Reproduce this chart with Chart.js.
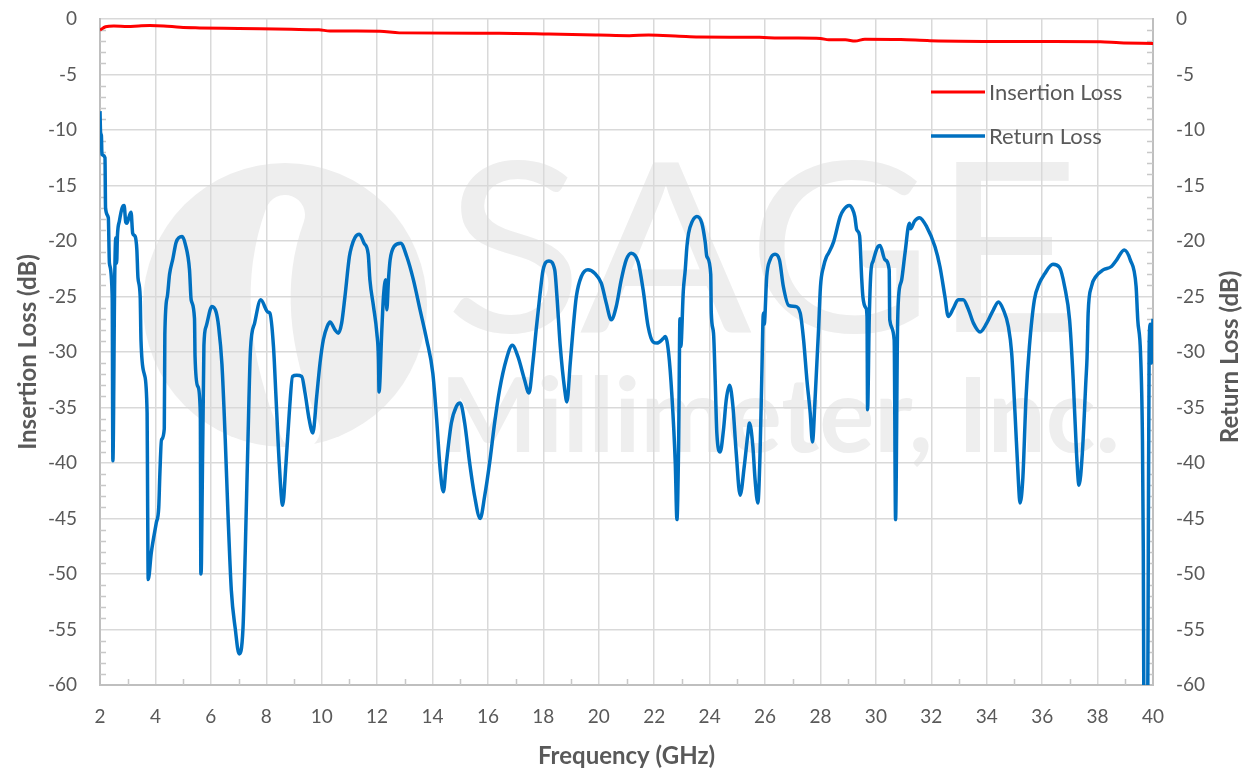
<!DOCTYPE html>
<html><head><meta charset="utf-8">
<script src="https://cdn.jsdelivr.net/npm/chart.js@4.4.1/dist/chart.umd.min.js"></script>
<style>html,body{margin:0;padding:0;background:#fff}canvas{display:block}</style>
</head><body>
<canvas id="c" width="1250" height="773"></canvas>
<script>
// ---- Data ----
const seriesNames = ['Insertion Loss', 'Return Loss'];
const xTitle = 'Frequency (GHz)';
const yTitleLeft = 'Insertion Loss (dB)';
const yTitleRight = 'Return Loss (dB)';

const freqIL = [2.0,2.2,2.5,3.0,3.4,3.8,4.3,4.9,5.6,7.0,8.9,9.9,10.3,12.1,12.8,16.4,18.2,20.0,21.1,21.8,22.9,23.6,25.8,26.5,27.2,28.0,28.3,28.9,29.25,29.6,30.9,31.95,35.9,38.1,38.8,40.0];
const insertionLoss = [-1.0,-0.7,-0.62,-0.68,-0.62,-0.58,-0.62,-0.75,-0.8,-0.85,-0.93,-0.97,-1.08,-1.1,-1.25,-1.28,-1.35,-1.44,-1.5,-1.45,-1.55,-1.62,-1.65,-1.71,-1.71,-1.75,-1.88,-1.88,-1.98,-1.82,-1.85,-1.95,-2.03,-2.05,-2.15,-2.2];

const freqRL = [
2.00,2.02,2.05,2.07,2.18,2.20,2.30,2.34,2.44,2.465,2.53,2.57,2.60,2.63,2.70,2.80,2.87,2.93,2.97,3.05,3.12,3.18,3.27,3.33,3.37,3.45,3.48,3.60,3.70,3.72,3.74,3.85,4.03,4.12,4.16,4.22,4.32,4.34,4.43,4.51,4.63,4.75,4.96,5.08,5.23,5.29,5.41,5.43,5.53,5.62,5.64,5.66,5.75,5.83,6.04,6.19,6.28,6.40,6.52,6.62,6.74,6.88,7.02,7.16,7.24,7.34,7.43,7.58,7.80,8.06,
8.13,8.26,8.35,8.47,8.59,8.71,8.83,8.95,9.10,9.28,9.40,9.55,9.68,9.82,9.94,10.06,10.20,10.30,10.48,10.60,10.72,10.84,11.00,11.08,11.20,11.36,11.53,11.68,11.74,11.87,11.99,12.05,12.07,12.17,12.23,12.31,12.35,12.41,12.47,12.61,12.85,13.07,13.31,13.55,13.79,14.01,14.15,14.27,14.39,
14.50,14.68,14.86,15.00,15.16,15.34,15.52,15.72,15.88,16.06,16.24,16.42,16.66,16.88,17.08,17.32,17.48,17.62,17.74,17.87,17.99,18.20,18.41,18.49,18.61,18.77,18.85,18.97,19.07,19.19,19.37,19.61,19.85,20.09,20.27,20.45,20.63,20.81,20.99,21.17,21.42,21.60,21.78,21.96,22.10,22.32,22.40,
22.52,22.64,22.76,22.82,22.88,22.93,22.96,23.05,23.12,23.18,23.24,23.36,23.54,23.72,23.84,23.90,24.04,24.06,24.14,24.20,24.26,24.38,24.50,24.60,24.72,24.84,24.96,25.10,25.25,25.37,25.44,25.56,25.64,25.74,25.82,25.88,25.94,25.97,26.06,26.18,26.36,26.52,26.66,26.85,27.09,27.27,27.39,27.51,27.63,27.71,27.81,27.93,28.00,28.11,28.22,28.29,28.47,28.71,28.83,29.04,29.15,29.24,29.31,29.41,29.49,29.53,29.63,29.68,29.70,29.76,29.82,29.90,30.05,30.15,30.33,30.48,30.50,30.66,30.71,30.78,30.82,30.93,31.05,31.21,31.25,31.40,31.57,31.83,32.13,32.31,32.49,32.61,32.79,32.97,33.15,33.33,33.52,33.76,34.00,34.24,34.42,34.60,34.78,34.90,35.02,35.14,35.20,35.30,35.42,35.54,35.72,35.90,36.08,36.39,36.63,36.81,36.99,37.12,37.24,37.33,37.45,37.58,37.62,37.66,37.78,37.94,38.20,38.50,38.69,38.96,39.18,39.39,39.45,39.55,39.62,39.65,39.67,39.74,39.81,39.83,39.86,39.90,39.94,40.00];
const returnLoss = [
-8.3,-10.2,-10.5,-12.2,-12.5,-17.0,-17.9,-22.0,-25.0,-39.8,-23.5,-19.7,-22.0,-19.5,-18.2,-17.0,-16.8,-18.3,-18.4,-17.8,-17.4,-19.3,-19.6,-20.8,-23.3,-25.0,-29.0,-32.0,-35.5,-44.0,-50.5,-48.1,-45.4,-44.0,-41.0,-37.9,-36.9,-28.4,-25.0,-23.0,-21.6,-20.1,-19.6,-20.3,-22.6,-25.3,-27.0,-30.4,-33.1,-35.5,-50.0,-49.0,-29.4,-27.7,-25.9,-26.4,-27.7,-31.1,-37.9,-44.7,-51.5,-54.9,-57.2,-54.9,-48.1,-37.9,-29.8,-27.4,-25.3,-26.4,
-26.5,-29.5,-34.0,-40.1,-43.8,-40.1,-35.5,-32.2,-32.1,-32.2,-33.7,-36.1,-37.3,-34.0,-31.0,-28.9,-27.7,-27.3,-28.0,-28.3,-27.4,-25.0,-21.4,-20.5,-19.7,-19.4,-20.2,-21.2,-23.5,-25.9,-28.3,-30.7,-33.6,-28.0,-25.0,-23.5,-26.2,-23.5,-21.7,-20.5,-20.2,-21.4,-23.5,-26.2,-28.9,-31.9,-36.1,-40.4,-42.6,
-40.0,-36.4,-34.9,-34.6,-36.4,-40.0,-43.0,-45.0,-43.0,-40.0,-36.4,-33.4,-30.7,-29.4,-30.4,-32.5,-33.7,-31.0,-28.0,-25.0,-22.6,-21.8,-22.6,-25.0,-29.5,-33.4,-34.5,-31.0,-28.0,-25.0,-23.2,-22.6,-22.9,-23.8,-25.6,-27.1,-25.9,-23.5,-21.7,-21.1,-21.9,-24.4,-27.7,-29.1,-29.2,-28.8,-28.6,
-30.1,-34.0,-40.0,-45.1,-38.5,-27.0,-29.5,-24.5,-22.6,-20.5,-19.3,-18.3,-17.8,-18.4,-20.1,-21.4,-23.0,-26.5,-28.3,-32.5,-37.3,-39.0,-37.0,-34.3,-33.0,-34.9,-39.1,-42.9,-40.3,-37.6,-36.4,-38.5,-41.5,-43.6,-39.1,-32.5,-26.5,-27.5,-23.2,-21.7,-21.2,-21.7,-24.1,-25.8,-25.9,-26.5,-28.9,-32.5,-35.5,-38.1,-34.0,-28.0,-24.1,-22.3,-21.4,-21.1,-20.1,-17.8,-17.2,-16.8,-17.1,-17.8,-19.0,-19.5,-23.5,-25.0,-26.0,-26.8,-35.2,-27.0,-22.8,-21.8,-20.6,-20.4,-21.7,-22.6,-27.1,-28.9,-45.1,-28.0,-25.0,-23.5,-21.1,-18.4,-18.9,-18.2,-17.9,-18.7,-20.5,-22.3,-25.0,-26.8,-26.1,-25.3,-25.3,-26.1,-27.4,-28.2,-27.4,-26.2,-25.5,-26.2,-27.7,-30.1,-35.5,-41.5,-43.6,-41.5,-34.0,-29.5,-25.3,-23.8,-23.0,-22.1,-22.4,-24.1,-27.1,-32.5,-39.1,-42.0,-39.1,-32.5,-30.5,-26.5,-24.1,-23.2,-22.6,-22.3,-21.7,-20.8,-21.7,-24.1,-27.1,-30.1,-38.0,-48.0,-62.0,-72.0,-62.0,-48.0,-30.0,-27.5,-31.0,-27.0];

const xMin = 2, xMax = 40, xStep = 2;
const yMin = -60, yMax = 0, yStep = 5;

// ---- Styles ----
const TXT = '#595959';
const FONT = 'Lato, "Open Sans", sans-serif';

function pts(xs, ys){ return xs.map((x,i)=>({x:x, y:ys[i]})); }

const watermark = {
  id:'watermark',
  beforeDraw(chart){
    const c = chart.ctx;
    c.save();
    c.fillStyle = '#ffffff';
    c.fillRect(0,0,chart.width,chart.height);
    const g = '#eeeeee';
    // circular logo
    c.fillStyle = g;
    c.beginPath(); c.arc(285, 305, 142, 0, Math.PI*2); c.fill();
    c.strokeStyle = '#ffffff'; c.lineWidth = 40; c.lineCap = 'round';
    c.beginPath(); c.moveTo(285, 215); c.quadraticCurveTo(250, 310, 300, 430); c.stroke();
    // SAGE
    c.fillStyle = g;
    c.textBaseline = 'alphabetic'; c.textAlign = 'left';
    c.font = 'normal 236px ' + FONT;
    let w = c.measureText('SAGE').width;
    c.save(); c.translate(445, 332); c.scale(635/w, 1); c.fillText('SAGE', 0, 0); c.restore();
    c.font = 'bold 104px ' + FONT;
    w = c.measureText('Millimeter, Inc.').width;
    c.save(); c.translate(440, 452); c.scale(680/w, 1); c.fillText('Millimeter, Inc.', 0, 0); c.restore();
    c.restore();
  }
};

const minorTicks = {
  id:'minorTicks',
  beforeDatasetsDraw(chart){
    const c = chart.ctx, a = chart.chartArea;
    const y = chart.scales.y, x = chart.scales.x;
    c.save();
    c.strokeStyle = '#c8c8c8'; c.lineWidth = 1.5;
    c.beginPath();
    for(let v = yMin+1; v < yMax; v++){
      if (v % yStep === 0) continue;
      const py = Math.round(y.getPixelForValue(v)) + 0.5;
      c.moveTo(a.left, py); c.lineTo(a.left+6, py);
      c.moveTo(a.right-6, py); c.lineTo(a.right, py);
    }
    for(let v = xMin+1; v < xMax; v+=2){
      const px = Math.round(x.getPixelForValue(v)) + 0.5;
      c.moveTo(px, a.bottom); c.lineTo(px, a.bottom-6);
    }
    c.stroke();
    c.restore();
  }
};

const legendAndTitle = {
  id:'legendAndTitle',
  afterDraw(chart){
    const c = chart.ctx;
    const ds = chart.data.datasets;
    c.save();
    c.font = '22px ' + FONT;
    c.textBaseline = 'middle'; c.textAlign = 'left';
    const rows = [92, 136];
    ds.forEach((d,i)=>{
      c.strokeStyle = d.borderColor; c.lineWidth = d.borderWidth;
      c.beginPath(); c.moveTo(931, rows[i]); c.lineTo(985, rows[i]); c.stroke();
      c.fillStyle = TXT;
      c.fillText(d.label, 989, rows[i]+1);
    });
    // right axis title, rotated like the left one
    const y2 = chart.scales.y2;
    c.font = 'bold 24px ' + FONT;
    c.textAlign = 'center'; c.textBaseline = 'middle';
    c.translate(1230, 357);
    c.rotate(-Math.PI/2);
    c.fillText(yTitleRight, 0, 0);
    c.restore();
  }
};

const tickFont = {family: FONT, size: 19};
const titleFont = {family: FONT, size: 24, weight: 'bold'};

new Chart(document.getElementById('c'), {
  type:'line',
  data:{ datasets:[
    {label: seriesNames[0], data: pts(freqIL, insertionLoss), borderColor:'#FF0000', borderWidth:3, pointRadius:0, cubicInterpolationMode:'monotone', yAxisID:'y', order:2},
    {label: seriesNames[1], data: pts(freqRL, returnLoss), borderColor:'#0070C0', borderWidth:3.5, pointRadius:0, cubicInterpolationMode:'monotone', yAxisID:'y2', order:1}
  ]},
  options:{
    responsive:false, animation:false, devicePixelRatio:1,
    layout:{padding:{top:19, left:0, right:0, bottom:0}},
    plugins:{legend:{display:false}, tooltip:{enabled:false}},
    scales:{
      x:{type:'linear', min:xMin, max:xMax,
        ticks:{stepSize:xStep, autoSkip:false, maxRotation:0, font:tickFont, color:TXT, padding:20},
        grid:{color:'#d9d9d9', lineWidth:1.5, drawTicks:false},
        border:{color:'#bfbfbf', width:2},
        title:{display:true, text:xTitle, font:titleFont, color:TXT, padding:{top:0,bottom:2}},
        afterFit(s){ s.height = 88; s.paddingLeft = 0; s.paddingRight = 0; }
      },
      y:{type:'linear', position:'left', min:yMin, max:yMax,
        ticks:{stepSize:yStep, font:tickFont, color:TXT, padding:23},
        grid:{color:'#d9d9d9', lineWidth:1.5, drawTicks:false},
        border:{color:'#bfbfbf', width:2},
        title:{display:true, text:yTitleLeft, font:titleFont, color:TXT, padding:{top:14,bottom:0}},
        afterFit(s){ s.width = 100; s.paddingTop = 0; s.paddingBottom = 0; }
      },
      y2:{type:'linear', position:'right', min:yMin, max:yMax,
        ticks:{stepSize:yStep, font:tickFont, color:TXT, padding:23},
        grid:{display:false, drawTicks:false},
        border:{color:'#bfbfbf', width:2},
        afterFit(s){ s.width = 97; s.paddingTop = 0; s.paddingBottom = 0; }
      }
    }
  },
  plugins:[watermark, minorTicks, legendAndTitle]
});
</script>
</body></html>
